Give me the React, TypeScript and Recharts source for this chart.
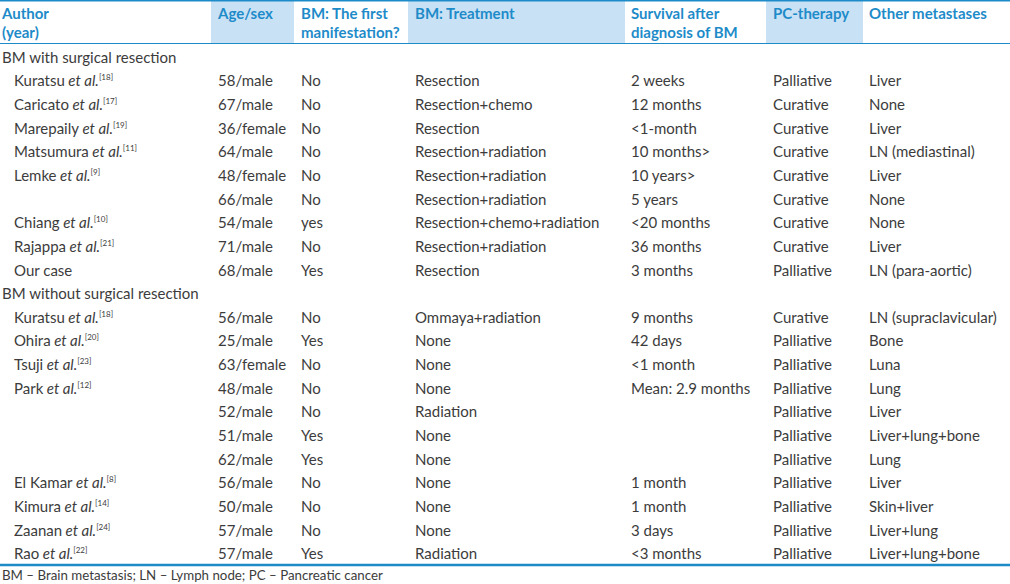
import { ScatterChart, Scatter, XAxis, YAxis, Customized } from 'recharts';

const groupTitles = ['BM with surgical resection', 'BM without surgical resection'];
const caseGroup = [0, 0, 0, 0, 0, 0, 0, 0, 0, 1, 1, 1, 1, 1, 1, 1, 1, 1, 1, 1];
const authorNames = ['Kuratsu', 'Caricato', 'Marepaily', 'Matsumura', 'Lemke', '', 'Chiang', 'Rajappa', 'Our case',
  'Kuratsu', 'Ohira', 'Tsuji', 'Park', '', '', '', 'El Kamar', 'Kimura', 'Zaanan', 'Rao'];
const authorRefs = ['18', '17', '19', '11', '9', '', '10', '21', '',
  '18', '20', '23', '12', '', '', '', '8', '14', '24', '22'];
const ageSex = ['58/male', '67/male', '36/female', '64/male', '48/female', '66/male', '54/male', '71/male', '68/male',
  '56/male', '25/male', '63/female', '48/male', '52/male', '51/male', '62/male', '56/male', '50/male', '57/male', '57/male'];
const firstManifestation = ['No', 'No', 'No', 'No', 'No', 'No', 'yes', 'No', 'Yes',
  'No', 'Yes', 'No', 'No', 'No', 'Yes', 'Yes', 'No', 'No', 'No', 'Yes'];
const treatment = ['Resection', 'Resection+chemo', 'Resection', 'Resection+radiation', 'Resection+radiation',
  'Resection+radiation', 'Resection+chemo+radiation', 'Resection+radiation', 'Resection',
  'Ommaya+radiation', 'None', 'None', 'None', 'Radiation', 'None', 'None', 'None', 'None', 'None', 'Radiation'];
const survival = ['2 weeks', '12 months', '<1-month', '10 months>', '10 years>', '5 years', '<20 months', '36 months', '3 months',
  '9 months', '42 days', '<1 month', 'Mean: 2.9 months', '', '', '', '1 month', '1 month', '3 days', '<3 months'];
const pcTherapy = ['Palliative', 'Curative', 'Curative', 'Curative', 'Curative', 'Curative', 'Curative', 'Curative', 'Palliative',
  'Curative', 'Palliative', 'Palliative', 'Palliative', 'Palliative', 'Palliative', 'Palliative', 'Palliative', 'Palliative', 'Palliative', 'Palliative'];
const otherMetastases = ['Liver', 'None', 'Liver', 'LN (mediastinal)', 'Liver', 'None', 'None', 'Liver', 'LN (para-aortic)',
  'LN (supraclavicular)', 'Bone', 'Luna', 'Lung', 'Liver', 'Liver+lung+bone', 'Lung', 'Liver', 'Skin+liver', 'Liver+lung', 'Liver+lung+bone'];
const headerLines = [
  ['Author', '(year)'], ['Age/sex'], ['BM: The first', 'manifestation?'], ['BM: Treatment'],
  ['Survival after', 'diagnosis of BM'], ['PC-therapy'], ['Other metastases'],
];
const footnote = 'BM – Brain metastasis; LN – Lymph node; PC – Pancreatic cancer';

// build the table rows: a group title row before the first case of each group
const rows: any[] = [];
caseGroup.forEach((g, i) => {
  if (i === 0 || caseGroup[i - 1] !== g) rows.push({ row: rows.length, x: 0, title: groupTitles[g] });
  rows.push({
    row: rows.length, x: 0, author: authorNames[i], ref: authorRefs[i], age: ageSex[i],
    first: firstManifestation[i], treat: treatment[i], surv: survival[i], pc: pcTherapy[i], other: otherMetastases[i],
  });
});

const BLUE = '#1e8bc9';
const SHADE = '#c8e1f5';
const TEXT = '#3c3c3c';
const FONT = 'Lato, "Open Sans", sans-serif';
const colX = [2, 218, 301, 415, 631, 773, 869];
const shaded = [[211, 294], [408, 625], [766, 863]];

const RowShape = (props: any) => {
  const { cy, payload } = props;
  const y = cy + 6;
  if (payload.title) {
    return <text x={colX[0]} y={y} fill={TEXT} fontSize={15} fontFamily={FONT}>{payload.title}</text>;
  }
  const cells = [payload.age, payload.first, payload.treat, payload.surv, payload.pc, payload.other];
  return (
    <g fontFamily={FONT} fontSize={15} fill={TEXT}>
      {payload.author && (
        <text x={14} y={y}>
          {payload.author}
          {payload.ref && <tspan fontStyle="italic"> et al.</tspan>}
          {payload.ref && <tspan fontSize={8} dy={-6}>[{payload.ref}]</tspan>}
        </text>
      )}
      {cells.map((c, i) => (
        <text key={i} x={colX[i + 1]} y={y}>{c}</text>
      ))}
    </g>
  );
};

const Header = () => (
  <g fontFamily={FONT}>
    {shaded.map(([a, b], i) => (
      <rect key={i} x={a} y={1} width={b - a} height={42} fill={SHADE} />
    ))}
    <line x1={0} x2={1010} y1={0.75} y2={0.75} stroke={BLUE} strokeWidth={1.5} />
    <line x1={0} x2={1010} y1={43.5} y2={43.5} stroke={BLUE} strokeWidth={1} />
    {headerLines.map((lines, i) =>
      lines.map((t, j) => (
        <text key={`${i}-${j}`} x={colX[i]} y={19 + j * 19} fill={BLUE} fontSize={15} fontWeight="bold">{t}</text>
      ))
    )}
    <line x1={0} x2={1010} y1={565} y2={565} stroke={BLUE} strokeWidth={2.5} />
    <text x={2} y={580} fill={TEXT} fontSize={13.3}>{footnote}</text>
  </g>
);

export default function App() {
  return (
    <div style={{ position: 'absolute', left: 0, top: 0, background: '#fff' }}>
      <ScatterChart width={1010} height={584} margin={{ top: 45, right: 0, bottom: 19, left: 0 }}>
        <XAxis type="number" dataKey="x" domain={[0, 1]} hide />
        <YAxis type="number" dataKey="row" domain={[-0.5, 21.5]} reversed hide allowDataOverflow />
        <Customized component={Header} />
        <Scatter data={rows} shape={RowShape} isAnimationActive={false} />
      </ScatterChart>
    </div>
  );
}
